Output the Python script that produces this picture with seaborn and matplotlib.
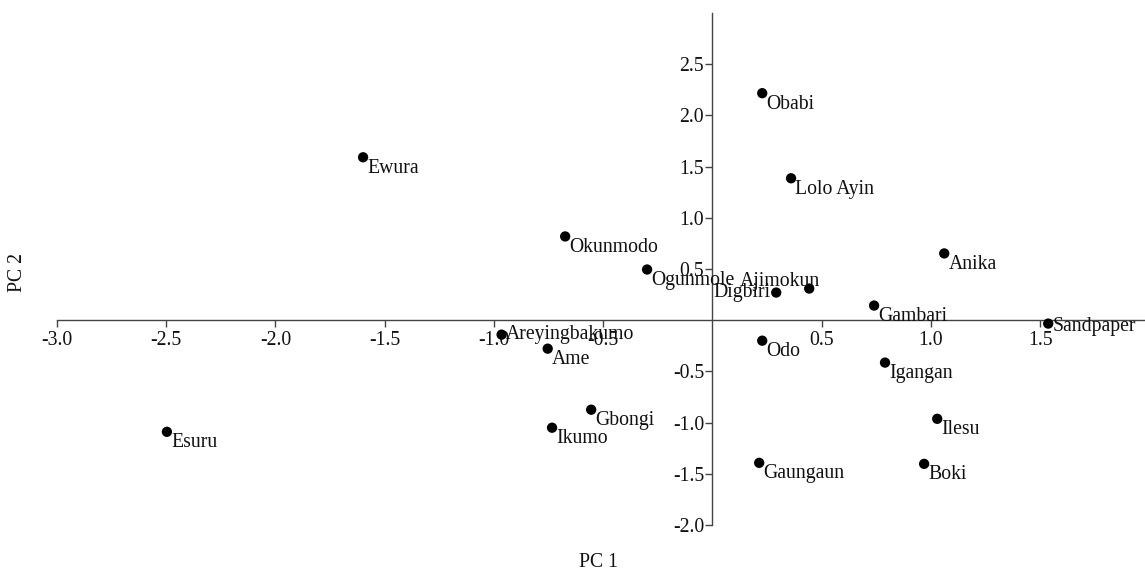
import numpy as np
import pandas as pd
import seaborn as sns
import matplotlib.pyplot as plt

# PCA scores
names = ['Obabi', 'Ewura', 'Lolo Ayin', 'Okunmodo', 'Anika', 'Ogunmole',
         'Ajimokun', 'Digbiri', 'Gambari', 'Sandpaper', 'Areyingbakumo',
         'Ame', 'Odo', 'Igangan', 'Gbongi', 'Ikumo', 'Esuru', 'Ilesu',
         'Gaungaun', 'Boki']
pc1 = [0.228, -1.599, 0.360, -0.674, 1.061, -0.299,
       0.443, 0.292, 0.740, 1.537, -0.965,
       -0.754, 0.228, 0.790, -0.555, -0.734, -2.497, 1.029,
       0.214, 0.969]
pc2 = [2.217, 1.591, 1.386, 0.818, 0.652, 0.495,
       0.309, 0.270, 0.143, -0.033, -0.141,
       -0.278, -0.200, -0.414, -0.874, -1.050, -1.090, -0.963,
       -1.393, -1.403]

xticks = [-3.0, -2.5, -2.0, -1.5, -1.0, -0.5, 0.5, 1.0, 1.5]
yticks = [-2.0, -1.5, -1.0, -0.5, 0.5, 1.0, 1.5, 2.0, 2.5]

df = pd.DataFrame({'name': names, 'PC 1': pc1, 'PC 2': pc2})

sns.set_style('white')
plt.rcParams['font.family'] = ['Liberation Serif', 'DejaVu Serif']
fs = 14.2

fig = plt.figure(figsize=(11.45, 5.74), dpi=100)
ax = fig.add_axes([57 / 1145, 49 / 574, 1088 / 1145, 512 / 574])

sns.scatterplot(data=df, x='PC 1', y='PC 2', color='black', s=55,
                edgecolor='none', ax=ax, zorder=3)

# label placement (offset points, ha, va); default = right-below
special = {
    'Ajimokun': ((8, 5), 'right', 'center'),
    'Digbiri': ((-4, 0), 'right', 'center'),
    'Areyingbakumo': ((3, 0), 'left', 'center'),
    'Sandpaper': ((3, 5), 'left', 'top'),
}
for n, x, y in zip(names, pc1, pc2):
    off, ha, va = special.get(n, ((3, -1), 'left', 'top'))
    ax.annotate(n, (x, y), xytext=off, textcoords='offset points',
                ha=ha, va=va, fontsize=fs, color='#111111')

ax.set_xlim(-3.0, 1.98)
ax.set_ylim(-2.0, 3.0)
for s in ['top', 'right']:
    ax.spines[s].set_visible(False)
for s in ['left', 'bottom']:
    ax.spines[s].set_position(('data', 0))
    ax.spines[s].set_color('#444444')
    ax.spines[s].set_linewidth(1.0)
ax.spines['left'].set_bounds(-2.0, 3.0)

ax.set_xticks(xticks)
ax.set_yticks(yticks)
ax.set_xticklabels(['%.1f' % v for v in xticks])
ax.set_yticklabels(['%.1f' % v for v in yticks])
ax.tick_params(axis='both', direction='out', length=5, width=1,
               color='#444444', labelsize=fs, labelcolor='#111111', pad=3)
ax.tick_params(axis='y', pad=1)
ax.tick_params(axis='x', bottom=True)
ax.tick_params(axis='y', left=True)

ax.set_xlabel('PC 1', fontsize=fs, color='#111111')
ax.set_ylabel('PC 2', fontsize=fs, color='#111111')
ax.xaxis.label.set_va('center')
ax.yaxis.label.set_va('center')
ax.xaxis.set_label_coords(0.498, -0.0742)
ax.yaxis.set_label_coords(-0.036, 0.494)

fig.savefig('out.png', dpi=100)
